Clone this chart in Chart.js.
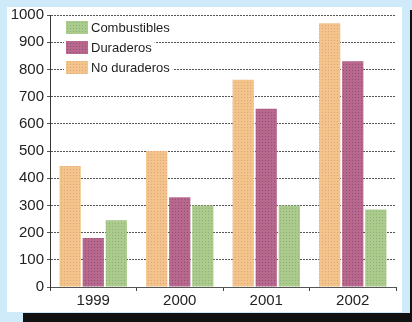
<!DOCTYPE html>
<html>
<head>
<meta charset="utf-8">
<script src="https://cdn.jsdelivr.net/npm/chart.js@4/dist/chart.umd.min.js"></script>
<style>
  html, body { margin: 0; padding: 0; }
  body { width: 412px; height: 322px; background: #cfeaf8; position: relative; overflow: hidden; }
  .panel { position: absolute; left: 7px; top: 7px; width: 395px; height: 305px; background: #fff; }
  .edge-right { position: absolute; left: 410px; top: 10px; width: 2px; height: 312px; background: #111; }
  .edge-bottom { position: absolute; left: 23px; top: 313px; width: 389px; height: 9px; background: #111; }
  .wrap { position: absolute; left: 0; top: 0; width: 412px; height: 322px; }
</style>
</head>
<body>
<div class="panel"></div>
<div class="edge-right"></div>
<div class="edge-bottom"></div>
<div class="wrap"><canvas id="myChart"></canvas></div>
<script>
// years on the x axis
const years = ['1999', '2000', '2001', '2002'];

// series, in bar order left to right
const noDuraderos = [445, 500, 762, 970];
const duraderos = [180, 330, 655, 830];
const combustibles = [245, 300, 300, 285];

const seriesNames = ['No duraderos', 'Duraderos', 'Combustibles'];

// y axis ticks
const yTicks = [0, 100, 200, 300, 400, 500, 600, 700, 800, 900, 1000];

// dotted print texture for the bars
function dotted(base, dot) {
  const c = document.createElement('canvas');
  c.width = 3;
  c.height = 3;
  const g = c.getContext('2d');
  g.fillStyle = base;
  g.fillRect(0, 0, 3, 3);
  g.fillStyle = dot;
  g.fillRect(1, 1, 1, 1);
  return g.createPattern(c, 'repeat');
}

const orange = dotted('#f3c489', '#e2a386');
const purple = dotted('#b8678d', '#8e4f78');
const green = dotted('#abcb8c', '#8fb27a');

const swatch = {
  'No duraderos': orange,
  'Duraderos': purple,
  'Combustibles': green
};

// legend drawn inside the plot, top left, last series first
const boxLegend = {
  id: 'boxLegend',
  afterDatasetsDraw(chart) {
    const ctx = chart.ctx;
    const x = chart.chartArea.left + 16;
    let y = chart.chartArea.top + 6;
    ctx.save();
    ctx.font = '13px "Liberation Sans", Arial, sans-serif';
    ctx.textBaseline = 'middle';
    const items = chart.data.datasets.slice().reverse();
    items.forEach(ds => {
      const w = ctx.measureText(ds.label).width;
      ctx.fillStyle = '#fff';
      ctx.fillRect(x - 2, y - 1, 22 + 4 + w + 4, 15);
      ctx.fillStyle = swatch[ds.label];
      ctx.fillRect(x, y, 22, 13);
      ctx.fillStyle = '#1e1e1e';
      ctx.fillText(ds.label, x + 25, y + 7);
      y += 20;
    });
    ctx.restore();
  }
};

const data = {
  labels: years,
  datasets: [
    { label: seriesNames[0], data: noDuraderos, backgroundColor: orange },
    { label: seriesNames[1], data: duraderos, backgroundColor: purple },
    { label: seriesNames[2], data: combustibles, backgroundColor: green }
  ]
};

const config = {
  type: 'bar',
  data: data,
  options: {
    responsive: true,
    maintainAspectRatio: false,
    animation: false,
    layout: { padding: { top: 15, right: 16, bottom: 0, left: 0 } },
    datasets: {
      bar: { categoryPercentage: 0.8, barPercentage: 0.92, borderWidth: 0 }
    },
    plugins: {
      legend: { display: false },
      tooltip: { enabled: false }
    },
    scales: {
      x: {
        grid: { drawOnChartArea: false, tickLength: 4, color: '#444' },
        border: { color: '#555', width: 1 },
        ticks: {
          color: '#222',
          padding: 1,
          font: { family: '"Liberation Sans", Arial, sans-serif', size: 15 }
        },
        afterFit(scale) { scale.height = 35; }
      },
      y: {
        min: 0,
        max: 1000,
        afterBuildTicks(scale) { scale.ticks = yTicks.map(v => ({ value: v })); },
        grid: { color: '#555', tickLength: 3, tickBorderDash: [] },
        // dotted horizontal grid lines
        border: { color: '#333', width: 1, dash: [2, 1] },
        ticks: {
          color: '#222',
          padding: 3,
          callback: v => String(v),
          font: { family: '"Liberation Sans", Arial, sans-serif', size: 15 }
        },
        afterFit(scale) { scale.width = 50; }
      }
    }
  },
  plugins: [boxLegend]
};

const myChart = new Chart(document.getElementById('myChart'), config);
</script>
</body>
</html>
